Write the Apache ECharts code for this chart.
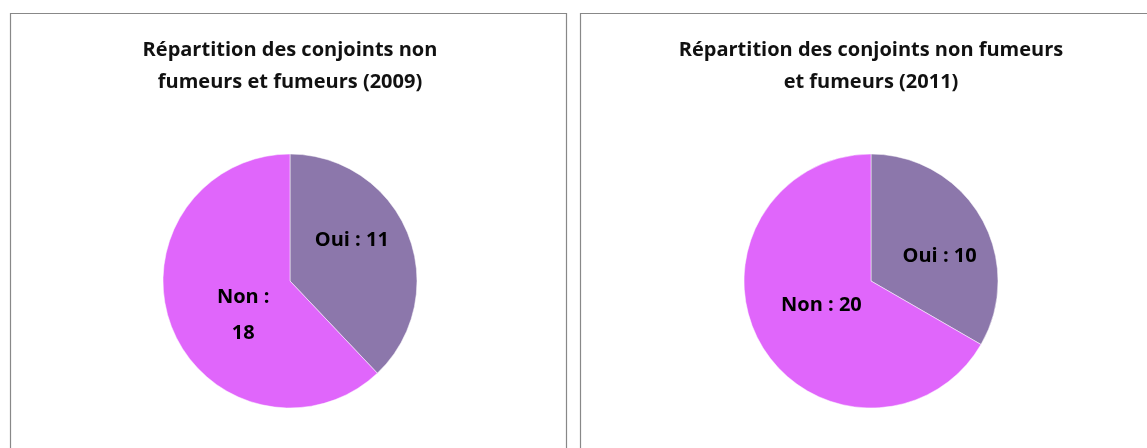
<!DOCTYPE html>
<html>
<head>
<meta charset="utf-8">
<script src="https://cdn.jsdelivr.net/npm/echarts@6/dist/echarts.min.js"></script>
<style>
  html, body { margin: 0; padding: 0; background: #fff; }
  #main { width: 1147px; height: 448px; }
</style>
</head>
<body>
<div id="main"></div>
<script>
// données
const categories = ["Oui", "Non"];
const values2009 = [11, 18];
const values2011 = [10, 20];
const titles = [
  "Répartition des conjoints non\nfumeurs et fumeurs (2009)",
  "Répartition des conjoints non fumeurs\net fumeurs (2011)"
];

const colors = ["#8C77AB", "#E066FB"];
const font = "'Open Sans', Lato, sans-serif";

// réglages de chaque panneau
const panels = [
  { cx: 290, cy: 281, values: values2009, title: titles[0], wrap: [false, true],
    offsets: [[0, -16], [15, 10]] },
  { cx: 871, cy: 281, values: values2011, title: titles[1], wrap: [false, false],
    offsets: [[11, 9], [8, -9]] }
];

const myChart = echarts.init(document.getElementById("main"));

const option = {
  backgroundColor: "#fff",
  animation: false,
  graphic: [
    { type: "rect", shape: { x: 10.5, y: 13.5, width: 556, height: 460 },
      style: { fill: "none", stroke: "#888", lineWidth: 1.2 } },
    { type: "rect", shape: { x: 580.5, y: 13.5, width: 620, height: 460 },
      style: { fill: "none", stroke: "#888", lineWidth: 1.2 } }
  ],
  title: panels.map(p => ({
    text: p.title,
    left: p.cx,
    top: 34,
    textAlign: "center",
    padding: 0,
    textStyle: {
      fontFamily: font,
      fontSize: 20,
      fontWeight: "bold",
      color: "#111",
      lineHeight: 32
    }
  })),
  series: panels.map(p => ({
    type: "pie",
    center: [p.cx, p.cy],
    radius: 127,
    startAngle: 90,
    clockwise: true,
    silent: true,
    itemStyle: { borderColor: "#fff", borderWidth: 0.5 },
    label: {
      position: "inside",
      fontFamily: font,
      fontSize: 20,
      fontWeight: "bold",
      color: "#000",
      lineHeight: 36,
      formatter: prm => p.wrap[prm.dataIndex]
        ? prm.name + " :\n" + prm.value
        : prm.name + " : " + prm.value
    },
    labelLine: { show: false },
    data: categories.map((c, i) => ({
      name: c,
      value: p.values[i],
      itemStyle: { color: colors[i] },
      label: { offset: p.offsets[i] }
    }))
  }))
};

myChart.setOption(option);
</script>
</body>
</html>
